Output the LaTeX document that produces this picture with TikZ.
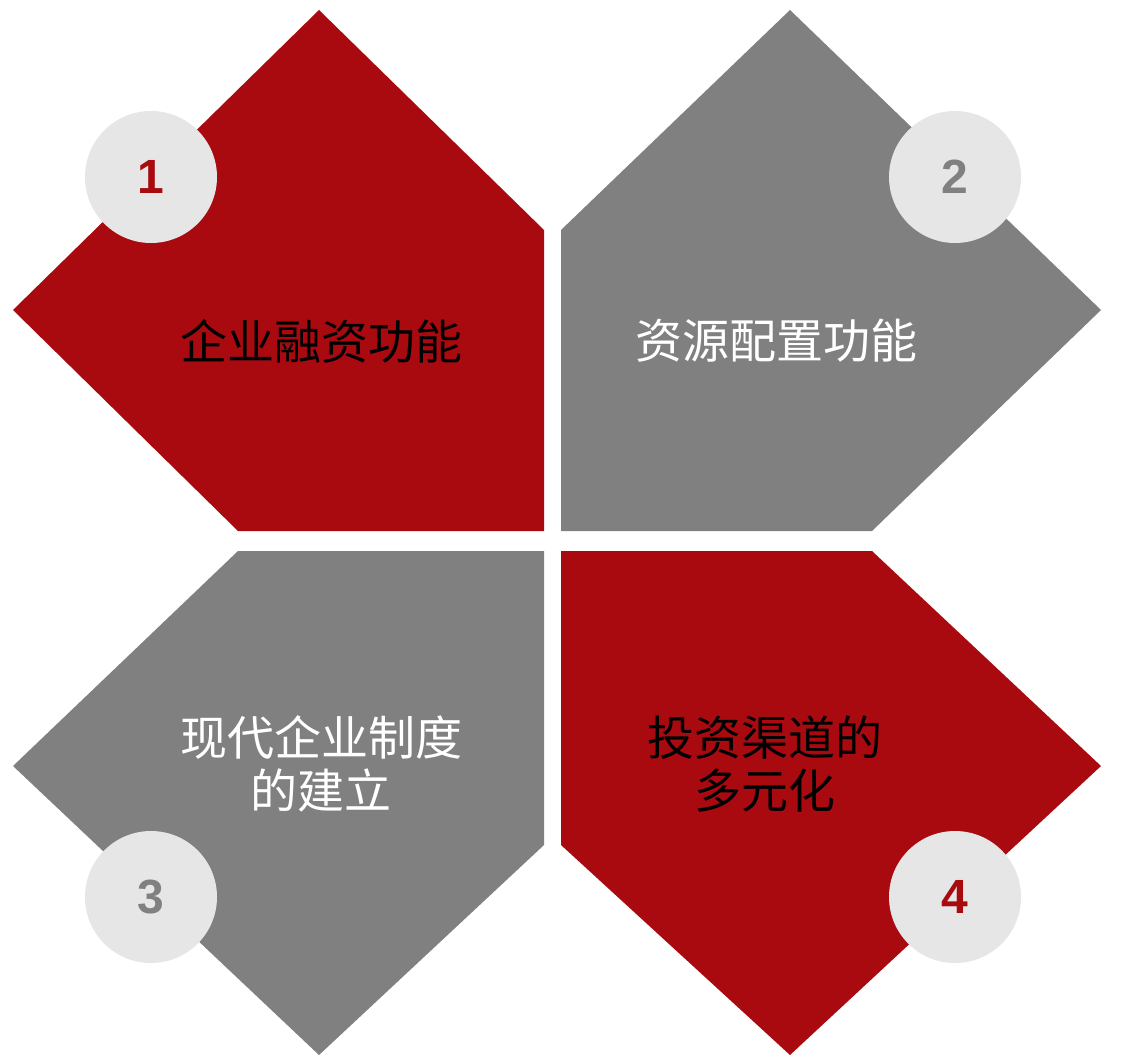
\documentclass[tikz,border=0pt]{standalone}
\usepackage{fontspec}
\setmainfont{Liberation Sans}
\newfontfamily\cjk{Noto Sans CJK SC}
\usepackage{tikz}

\definecolor{petalred}{HTML}{A80A10}
\definecolor{petalgray}{HTML}{808080}
\definecolor{diskgray}{HTML}{E6E6E6}

\tikzset{
  numdisk/.style={circle,fill=diskgray,minimum size=132pt,inner sep=0pt,
    font=\fontsize{48}{48}\selectfont\bfseries},
  cjktext/.style={align=center,font=\cjk\fontsize{47}{53}\selectfont}
}

\begin{document}
\begin{tikzpicture}[x=1pt,y=-1pt]
				\useasboundingbox[fill=white] (0,0) rectangle (1122,1058);
				% four petals
				\fill[petalred]  (319,10) -- (544,230) -- (544,531) -- (238,531) -- (13,310) -- cycle;
				\fill[petalgray] (790,10) -- (1101,310) -- (872,531) -- (561,531) -- (561,230) -- cycle;
				\fill[petalgray] (238,551) -- (544,551) -- (544,845) -- (319,1055) -- (13,766) -- cycle;
				\fill[petalred]  (561,551) -- (872,551) -- (1101,766) -- (790,1055) -- (561,845) -- cycle;
				% number disks
				\node[numdisk,text=petalred]  (n1) at (151,177) {1};
				\node[numdisk,text=petalgray] (n2) at (955,177) {2};
				\node[numdisk,text=petalgray] (n3) at (151,897) {3};
				\node[numdisk,text=petalred]  (n4) at (955,897) {4};
				% labels
				\node[cjktext,text=black] (t1) at (321,341) {企业融资功能};
				\node[cjktext,text=white] (t2) at (776,341) {资源配置功能};
				\node[cjktext,text=white] (t3) at (321,764) {现代企业制度\\的建立};
				\node[cjktext,text=black] (t4) at (765,764) {投资渠道的\\多元化};
			\end{tikzpicture}
\end{document}
